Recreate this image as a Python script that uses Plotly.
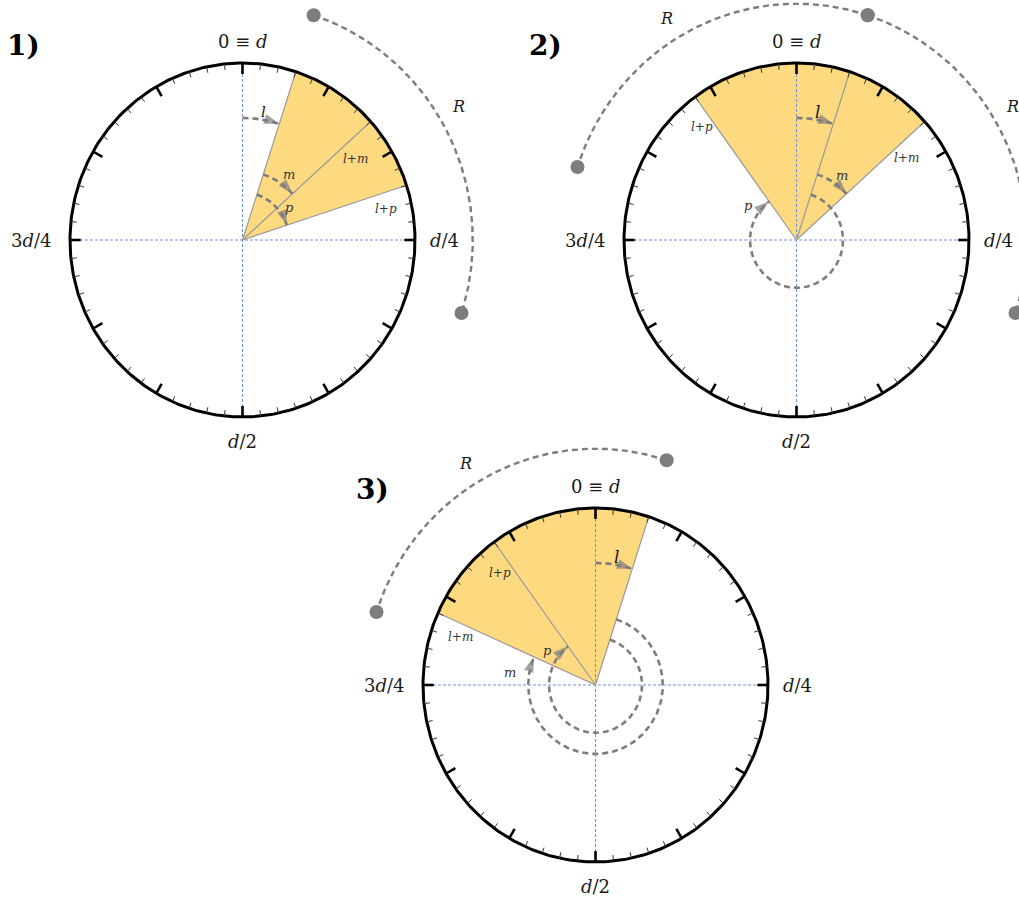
import numpy as np
import plotly.graph_objects as go

# ---------------- data (clock units, one turn = d = 60 units) ----------------
D_UNITS = 60
PANEL_LABELS = ["1)", "2)", "3)"]
L_VALUES = [3, 3, 3]
M_VALUES = [5, 5, 46]
P_VALUES = [9, 51, 51]
R_VALUE = 15
R_ARC_DIRECTIONS = [[1], [-1, 1], [-1]]
CARDINAL_VALUES = [0, 15, 30, 45]
CARDINAL_TEXT = ["0 ≡ <i>d</i>", "<i>d</i>/4", "<i>d</i>/2", "3<i>d</i>/4"]
MAJOR_EVERY = 5

# ---------------- layout / style ----------------
W, H = 1019, 903
CENTERS = [(242.5, 240.0), (796.5, 240.0), (595.5, 685.0)]
RX, RY = 172.5, 177.0
PANEL_POS = [(23, 46), (545, 46), (372, 490)]
FILL = "#FDD980"
GRAY = "#7d7d7d"
BLUE = "#6f8fd8"
FONT = "DejaVu Serif"
R_L, R_M, R_P, R_R = 0.69, 0.39, 0.27, 1.335
EDGE_LABEL = [{"m": (7, 0.80), "p": (6, 0.85)},
              {"m": (6, 0.79), "p": (-4.6, 0.84)},
              {"m": (-5, 0.83), "p": (-5.4, 0.84)}]
M_LABEL = [(-12, 0.46), (-12, 0.45), (-16, 0.50)]
P_LABEL = [(-16, 0.33), (-19, 0.34), (-19, 0.34)]
L_LABEL_SIZE = [15, 17, 17]


def deg2u(deg):
    return deg * D_UNITS / 360.0


def xy(r, u):
    t = np.asarray(u, float) * 2 * np.pi / D_UNITS
    return r * np.sin(t), r * np.cos(t)


def arc(r, u0, u1, n=240):
    u = np.linspace(u0, u1, n)
    return xy(r, u)


fig = go.Figure()
annotations = []

for i in range(3):
    xa = "x" if i == 0 else f"x{i+1}"
    ya = "y" if i == 0 else f"y{i+1}"
    l, m, p = L_VALUES[i], M_VALUES[i], P_VALUES[i]

    def add_line(x, y, color, width, dash=None, fill=None, fillcolor=None):
        fig.add_trace(go.Scatter(x=x, y=y, mode="lines", xaxis=xa, yaxis=ya,
                                 line=dict(color=color, width=width, dash=dash),
                                 fill=fill, fillcolor=fillcolor,
                                 hoverinfo="skip", showlegend=False))

    def add_text(x, y, text, size, color="#1a1a1a", ref=True, **kw):
        annotations.append(dict(x=float(x), y=float(y), text=text, showarrow=False,
                                xref=xa if ref else "paper", yref=ya if ref else "paper",
                                xanchor=kw.pop("xanchor", "center"),
                                yanchor=kw.pop("yanchor", "middle"),
                                font=dict(family=FONT, size=size, color=color), **kw))

    # --- wedge: smallest arc covering l, l+m, l+p ---
    bounds = sorted([l % D_UNITS, (l + m) % D_UNITS, (l + p) % D_UNITS])
    gaps = [(bounds[(k + 1) % 3] + (D_UNITS if k == 2 else 0)) - bounds[k] for k in range(3)]
    k = int(np.argmax(gaps))
    start = bounds[(k + 1) % 3]
    end = bounds[k] + (D_UNITS if bounds[k] < start else 0)
    ax_, ay_ = arc(1.0, start, end)
    add_line(np.r_[0, ax_, 0], np.r_[0, ay_, 0], "rgba(0,0,0,0)", 0,
             fill="toself", fillcolor=FILL)

    # --- blue dashed cross ---
    add_line([-1, 1], [0, 0], BLUE, 1, dash="3px,2px")
    add_line([0, 0], [-1, 1], BLUE, 1, dash="3px,2px")

    # --- wedge edges ---
    for b in bounds:
        ex, ey = xy(1.0, b)
        add_line([0, float(ex)], [0, float(ey)], "#9a9a9a", 1.2)

    # --- circle + ticks ---
    cx_, cy_ = arc(1.0, 0, D_UNITS, 400)
    add_line(cx_, cy_, "black", 3)
    mx, my, nx, ny = [], [], [], []
    for t in range(D_UNITS):
        major = t % MAJOR_EVERY == 0
        ln = 0.062 if major else 0.034
        x0, y0 = xy(1.0, t)
        x1, y1 = xy(1.0 - ln, t)
        if major:
            mx += [float(x0), float(x1), None]; my += [float(y0), float(y1), None]
        else:
            nx += [float(x0), float(x1), None]; ny += [float(y0), float(y1), None]
    add_line(nx, ny, "#333333", 1.0)
    add_line(mx, my, "black", 2.6)

    # --- dashed arcs with arrowheads (l, m, p) ---
    for r, u0, u1 in [(R_L, 0, l), (R_M, l, l + m), (R_P, l, l + p)]:
        x, y = arc(r, u0, u1)
        add_line(x, y, GRAY, 2.6, dash="6px,4px")
        fig.add_trace(go.Scatter(x=[x[-6], x[-1]], y=[y[-6], y[-1]], mode="markers",
                                 xaxis=xa, yaxis=ya, hoverinfo="skip", showlegend=False,
                                 marker=dict(symbol="arrow", angleref="previous",
                                             size=[0, 16], color=GRAY,
                                             line=dict(width=0))))

    # --- R arcs with dots ---
    for sgn in R_ARC_DIRECTIONS[i]:
        x, y = arc(R_R, l, l + sgn * R_VALUE)
        add_line(x, y, GRAY, 2.4, dash="6px,4px")
        fig.add_trace(go.Scatter(x=[x[0], x[-1]], y=[y[0], y[-1]], mode="markers",
                                 xaxis=xa, yaxis=ya, hoverinfo="skip", showlegend=False,
                                 marker=dict(size=14, color=GRAY)))
        lx, ly = xy(1.46, l + sgn * R_VALUE / 2 - deg2u(4))
        add_text(lx, ly, "<i>R</i>", 16)

    # --- cardinal labels ---
    card_pos = [(0, 1.12), (1.17, 0), (0, -1.14), (-1.225, 0)]
    for (px, py), txt in zip(card_pos, CARDINAL_TEXT):
        add_text(px, py, txt, 18)

    # --- edge labels l+m, l+p ---
    for key, val, txt in [("m", l + m, "<i>l</i>+<i>m</i>"), ("p", l + p, "<i>l</i>+<i>p</i>")]:
        off, rr = EDGE_LABEL[i][key]
        lx, ly = xy(rr, val + deg2u(off))
        add_text(lx, ly, txt, 12, color="#333333")

    # --- arc labels ---
    lx, ly = xy(0.735, deg2u(9.5))
    add_text(lx, ly, "<i>l</i>", L_LABEL_SIZE[i])
    off, rr = M_LABEL[i]
    lx, ly = xy(rr, l + m + deg2u(off))
    add_text(lx, ly, "<i>m</i>", 13, color="#333333")
    off, rr = P_LABEL[i]
    lx, ly = xy(rr, l + p + deg2u(off))
    add_text(lx, ly, "<i>p</i>", 13, color="#333333")

    # --- panel label ---
    ppx, ppy = PANEL_POS[i]
    add_text(ppx / W, 1 - ppy / H, "<b>" + PANEL_LABELS[i] + "</b>", 28, color="black", ref=False)

layout = dict(width=W, height=H, margin=dict(l=0, r=0, t=0, b=0),
              paper_bgcolor="white", plot_bgcolor="rgba(0,0,0,0)",
              showlegend=False, annotations=annotations)
for i, (cx, cy) in enumerate(CENTERS):
    xk = "xaxis" if i == 0 else f"xaxis{i+1}"
    yk = "yaxis" if i == 0 else f"yaxis{i+1}"
    xd = dict(range=[-cx / RX, (W - cx) / RX], visible=False, domain=[0, 1], fixedrange=True)
    yd = dict(range=[(cy - H) / RY, cy / RY], visible=False, domain=[0, 1], fixedrange=True)
    if i > 0:
        xd.update(overlaying="x", anchor=f"y{i+1}")
        yd.update(overlaying="y", anchor=f"x{i+1}")
    layout[xk] = xd
    layout[yk] = yd

fig.update_layout(**layout)
fig.write_html("out.html", config={"displayModeBar": False},
               post_script="document.body.style.margin='0';")
